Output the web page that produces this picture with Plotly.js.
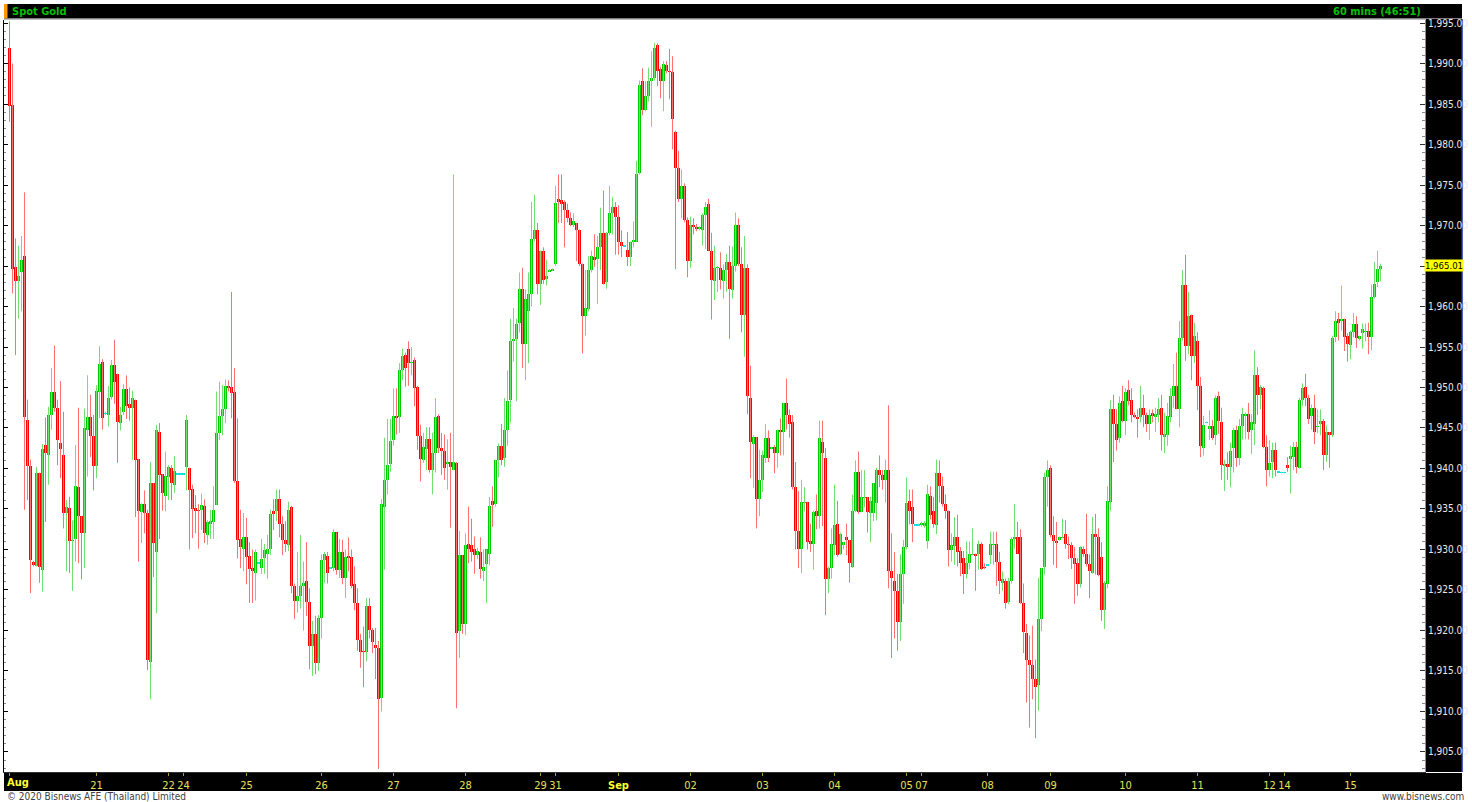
<!DOCTYPE html>
<html><head><meta charset="utf-8">
<script src="https://cdn.plot.ly/plotly-3.0.1.min.js"></script>
<style>html,body{margin:0;padding:0;background:#fff;overflow:hidden;} #chart{width:1472px;height:802px;}</style>
</head><body><div id="chart"></div>
<script>
// Hourly candles [open, high, low, close]
const aug20_24 = [
[1991.9,1995.2,1982.8,1984.8],[1984.9,1990.0,1961.6,1964.6],[1964.9,1968.4,1954.0,1963.1],[1963.1,1967.5,1958.5,1963.8],
[1964.2,1968.7,1959.4,1965.8],[1966.2,1974.1,1934.9,1946.4],[1946.0,1948.5,1936.1,1940.3],[1940.3,1941.1,1924.6,1928.7],
[1928.5,1928.6,1927.9,1928.1],[1928.0,1940.2,1927.9,1939.5],[1939.5,1939.5,1925.9,1927.9],[1927.5,1943.0,1924.8,1942.4],
[1942.9,1946.3,1933.4,1941.9],[1941.7,1947.6,1938.0,1946.6],[1946.6,1952.4,1944.8,1949.4],[1949.4,1955.2,1947.0,1947.5],
[1947.5,1948.5,1940.4,1943.5],[1943.2,1950.8,1938.8,1942.4],[1941.7,1947.0,1932.6,1934.5],[1934.5,1936.1,1927.3,1935.2],
[1935.1,1936.5,1927.1,1931.1],[1931.0,1933.6,1924.9,1931.2],[1931.3,1942.9,1928.5,1937.8],[1937.7,1947.5,1928.3,1934.1],
[1934.1,1934.1,1926.3,1932.0],[1932.0,1947.4,1927.7,1945.0],[1944.8,1951.5,1939.0,1946.4],[1946.4,1949.1,1941.4,1944.0],
[1944.0,1946.6,1937.3,1940.3],[1940.3,1950.3,1938.8,1949.6],[1949.5,1955.1,1946.2,1952.9],[1953.2,1953.5,1944.8,1946.2],
[1946.8,1947.0,1946.6,1946.8],[1946.6,1950.2,1945.2,1948.7],[1948.8,1953.4,1948.5,1952.8],[1952.8,1955.9,1948.0,1950.7],
[1951.7,1951.7,1940.7,1945.7],[1945.6,1947.6,1944.7,1946.6],[1947.0,1950.4,1946.6,1949.8],[1949.8,1951.5,1946.1,1947.7],
[1948.0,1950.0,1945.9,1947.5],[1947.5,1949.6,1941.1,1948.7],[1948.5,1948.5,1934.0,1941.0],[1941.2,1941.2,1928.5,1934.7],
[1934.6,1935.7,1930.8,1935.6],[1935.6,1937.3,1932.0,1934.5],[1934.5,1934.9,1915.1,1916.4],[1916.1,1940.8,1911.5,1938.2],
[1938.2,1938.2,1926.6,1930.8],[1929.7,1945.4,1922.1,1944.7],[1944.5,1945.6,1931.3,1939.2],[1939.3,1939.3,1934.8,1937.0],
[1936.6,1942.1,1934.7,1939.1],[1938.9,1940.4,1936.1,1940.2],[1940.0,1940.4,1936.1,1938.2],[1938.0,1941.5,1937.0,1939.7],
[1939.3,1939.4,1939.2,1939.3],[1939.3,1939.4,1939.2,1939.3],[1939.3,1939.4,1939.2,1939.3],
[1940.2,1946.6,1937.3,1946.0],[1940.0,1940.1,1930.0,1937.3],[1937.5,1938.0,1931.4,1935.0],[1935.1,1936.7,1932.0,1934.8],
[1934.9,1935.6,1930.1,1934.8],[1934.9,1936.9,1932.4,1935.5],[1935.4,1936.2,1930.8,1932.0],[1931.8,1933.6,1930.6,1933.4],
[1933.2,1934.9,1931.3,1933.5],[1933.4,1937.8,1931.3,1934.9],[1935.5,1949.5,1935.5,1944.4],[1944.4,1950.7,1943.5,1946.5],
[1946.5,1950.3,1944.1,1947.4],[1947.3,1951.0,1945.6,1950.2],[1950.2,1950.9,1949.5,1949.9],[1950.1,1961.8,1946.2,1949.3],
[1949.4,1952.4,1938.2,1938.4],[1938.4,1946.2,1928.9,1931.2],[1931.3,1934.9,1927.7,1930.3],[1930.1,1934.5,1927.3,1931.5],
[1931.5,1933.9,1925.7,1929.1]
];
const aug25_26 = [
[1929.2,1930.9,1923.4,1927.6],[1927.7,1930.0,1923.4,1927.3],[1927.1,1930.0,1923.7,1929.7],[1928.3,1928.4,1928.2,1928.3],
[1927.7,1931.3,1927.0,1928.8],[1928.9,1930.7,1927.0,1929.9],[1929.4,1931.8,1926.4,1930.0],[1930.1,1934.9,1929.3,1934.4],
[1934.7,1936.2,1932.4,1934.4],[1934.7,1937.4,1933.5,1936.2],[1936.2,1937.4,1931.5,1933.2],[1933.2,1934.1,1929.3,1931.2],
[1931.2,1933.5,1929.7,1930.7],[1930.6,1935.9,1929.8,1934.9],[1935.2,1935.4,1924.6,1925.5],[1925.5,1925.8,1921.4,1923.7],
[1923.7,1929.7,1922.2,1924.3],[1924.3,1931.8,1922.7,1925.5],[1925.5,1928.5,1920.0,1925.9],[1926.1,1930.9,1921.8,1923.5],
[1923.5,1925.2,1915.2,1918.1],[1918.1,1921.2,1914.4,1919.6],[1919.6,1921.8,1914.6,1916.0],[1916.0,1921.9,1915.0,1921.5],
[1921.5,1929.4,1919.0,1928.7],[1928.7,1929.7,1925.9,1929.4],[1929.2,1929.7,1925.8,1927.1],[1927.7,1927.8,1927.6,1927.7],
[1927.7,1932.5,1927.3,1932.1],[1932.1,1932.1,1926.9,1927.5],[1927.5,1931.3,1926.5,1929.7],[1929.7,1931.2,1925.7,1926.5],
[1926.5,1930.0,1924.0,1929.1],[1929.2,1931.5,1927.3,1929.1],[1929.1,1930.0,1925.2,1925.5],[1925.8,1927.9,1922.5,1923.4],
[1923.4,1925.2,1917.5,1918.8],[1918.8,1919.6,1915.4,1917.4],[1917.5,1920.5,1913.0,1917.4],[1917.4,1924.0,1916.2,1923.0],
[1923.0,1924.0,1919.0,1920.0],[1920.0,1920.3,1917.2,1918.6],[1918.2,1920.3,1914.0,1917.8],[1917.8,1918.7,1902.9,1911.5],
[1911.7,1936.2,1910.0,1935.6],[1935.2,1943.8,1927.5,1938.6],[1938.6,1946.1,1936.8,1940.4],[1940.5,1946.1,1939.6,1943.4],
[1943.5,1949.9,1942.8,1946.5],[1946.5,1949.9,1944.2,1946.2],[1946.3,1953.0,1944.4,1952.1],[1952.1,1954.8,1950.9,1953.9],
[1954.0,1954.3,1950.1,1952.4],[1954.8,1955.7,1950.2,1953.0],[1953.0,1955.0,1951.5,1953.2],[1953.4,1953.7,1947.7,1949.9],
[1950.1,1950.2,1942.3,1944.0],[1944.0,1945.4,1938.4,1941.2],[1941.0,1944.4,1940.7,1942.6],[1942.4,1945.1,1939.8,1943.6],
[1943.6,1945.1,1939.5,1939.8],[1939.8,1944.4,1936.8,1941.9],[1941.9,1948.7,1939.5,1946.3],[1946.5,1946.7,1941.9,1942.5],
[1942.5,1944.4,1939.2,1942.2],[1942.2,1944.2,1938.6,1940.1],[1940.5,1943.6,1937.4,1940.8],[1940.8,1944.4,1932.7,1940.2],
[1939.8,1976.3,1939.8,1940.8],[1940.7,1940.8,1910.4,1919.7],[1919.9,1932.3,1916.6,1929.3],[1929.3,1929.3,1919.6,1920.8],
[1920.8,1932.0,1919.4,1930.6],[1930.7,1935.3,1928.3,1930.1],[1930.6,1933.8,1928.5,1929.7],[1930.1,1931.6,1927.0,1929.3],
[1929.3,1930.2,1928.8,1929.8]
];
const aug28_sep02 = [
[1929.7,1931.5,1926.4,1927.6],[1927.3,1930.0,1926.1,1927.9],[1928.2,1930.0,1923.4,1930.0],[1929.4,1936.5,1928.1,1935.4],
[1936.0,1937.8,1932.8,1935.5],[1935.6,1941.1,1935.3,1941.0],[1941.0,1943.1,1938.9,1942.8],[1942.8,1945.5,1940.4,1941.1],
[1941.3,1948.7,1940.2,1944.8],[1944.8,1952.1,1942.8,1948.3],[1948.4,1958.5,1945.7,1955.8],[1955.9,1959.8,1953.2,1956.0],
[1956.0,1958.5,1948.3,1957.9],[1958.0,1964.2,1956.8,1962.2],[1962.1,1964.8,1952.4,1955.4],[1955.4,1962.1,1950.9,1960.9],
[1959.4,1964.2,1953.0,1961.5],[1961.5,1972.9,1960.0,1968.3],[1968.3,1973.8,1968.0,1969.5],[1969.5,1970.3,1961.5,1962.8],
[1962.8,1966.9,1960.2,1966.9],[1966.9,1967.3,1962.8,1963.3],[1963.4,1965.8,1962.6,1963.8],[1964.4,1964.6,1964.3,1964.5],
[1964.5,1964.7,1964.4,1964.6],[1965.3,1974.9,1965.0,1972.8],[1973.3,1976.3,1970.3,1972.9],[1973.1,1976.3,1970.3,1972.7],
[1972.9,1973.1,1967.3,1971.9],[1971.9,1972.7,1970.4,1970.9],[1970.9,1971.6,1969.9,1970.1],[1970.1,1971.5,1969.8,1970.5],
[1970.3,1970.3,1965.6,1969.5],[1969.5,1969.5,1965.0,1965.3],[1965.3,1965.3,1954.2,1958.8],[1958.8,1964.5,1956.4,1959.8],
[1959.7,1966.2,1959.4,1964.5],[1964.5,1966.9,1964.2,1966.2],[1966.1,1968.9,1964.9,1965.8],[1965.9,1968.7,1960.3,1967.4],
[1967.4,1972.2,1964.5,1969.1],[1969.1,1974.3,1962.7,1962.8],[1963.0,1969.2,1962.2,1969.1],[1969.1,1974.9,1968.8,1971.5],
[1971.5,1973.5,1968.9,1972.3],[1972.3,1972.9,1966.4,1971.1],[1971.1,1972.5,1966.4,1968.0],[1968.0,1969.4,1966.1,1967.5],
[1967.5,1967.6,1967.4,1967.5],[1967.0,1969.2,1965.0,1966.1],[1966.1,1968.0,1965.0,1968.0],[1968.0,1970.5,1967.3,1968.2],
[1968.0,1978.0,1968.0,1976.3],[1976.5,1987.9,1976.3,1987.3],[1987.8,1989.4,1983.6,1984.2],[1984.2,1987.8,1984.1,1986.0],
[1986.0,1989.5,1985.3,1987.8],[1987.8,1991.5,1982.2,1988.2],[1988.2,1992.5,1987.9,1991.9],[1992.3,1992.5,1987.2,1989.1],
[1989.3,1989.6,1985.7,1987.9],[1987.9,1990.3,1984.1,1990.0],[1989.8,1990.3,1988.8,1989.1],[1989.1,1991.8,1985.6,1989.0],
[1989.0,1990.9,1979.4,1983.2],[1981.6,1981.7,1964.6,1977.1],[1977.1,1979.2,1972.9,1973.3],[1973.3,1976.9,1970.9,1974.9],
[1974.9,1975.2,1970.4,1970.7],[1970.7,1971.0,1963.6,1965.6],[1965.6,1971.1,1964.8,1970.1],[1970.1,1970.9,1968.9,1969.8],
[1969.8,1970.2,1969.3,1969.6],[1969.6,1969.9,1969.4,1969.8],[1969.5,1971.5,1967.5,1971.3],[1971.3,1972.9,1967.1,1972.3],
[1972.7,1973.3,1966.9,1966.9],[1966.9,1969.1,1958.4,1963.3]
];
const sep03_08 = [
[1963.1,1967.5,1960.8,1964.7],[1964.7,1965.0,1961.8,1964.9],[1964.8,1966.7,1962.1,1963.3],[1963.1,1965.2,1961.0,1964.5],
[1964.5,1966.5,1961.8,1965.5],[1965.5,1967.5,1956.0,1962.1],[1962.0,1967.4,1961.0,1965.0],[1965.0,1971.6,1964.3,1970.1],
[1970.1,1970.9,1965.0,1965.3],[1965.2,1967.3,1956.8,1959.0],[1959.0,1968.7,1953.8,1964.7],[1964.7,1965.2,1946.7,1949.0],
[1948.7,1952.7,1938.8,1943.3],[1943.0,1944.1,1937.6,1943.9],[1943.9,1943.9,1932.6,1936.2],[1936.2,1942.3,1934.1,1938.6],
[1938.6,1942.2,1937.1,1941.7],[1941.3,1945.5,1940.7,1943.8],[1943.8,1944.7,1940.8,1941.3],[1942.5,1942.7,1942.4,1942.6],
[1942.6,1942.9,1939.4,1941.9],[1941.9,1944.8,1940.1,1944.7],[1944.7,1946.2,1941.6,1944.5],[1944.5,1948.1,1941.6,1948.1],
[1948.1,1951.1,1944.8,1946.6],[1946.6,1947.3,1943.8,1945.5],[1945.7,1946.6,1937.4,1937.7],[1937.7,1940.8,1930.0,1932.3],
[1932.3,1937.2,1927.7,1930.0],[1930.0,1938.6,1927.1,1935.9],[1935.8,1937.7,1934.7,1935.9],[1935.9,1935.9,1930.0,1930.9],
[1931.0,1933.2,1929.7,1930.7],[1930.7,1934.8,1927.5,1934.6],[1934.8,1936.8,1932.5,1934.1],[1934.1,1945.9,1932.6,1943.8],
[1943.3,1945.9,1932.9,1941.9],[1941.3,1942.5,1921.9,1926.3],[1926.3,1927.9,1924.6,1927.7],[1927.7,1932.6,1926.4,1930.7],
[1930.6,1938.0,1929.3,1933.0],[1933.2,1936.0,1929.1,1929.3],[1929.4,1932.1,1929.3,1931.9],[1930.6,1930.9,1930.0,1930.9],
[1931.5,1933.2,1929.3,1931.2],[1931.2,1931.2,1925.9,1928.3],[1927.9,1936.8,1927.7,1934.8],[1934.8,1941.0,1934.6,1939.6],
[1939.6,1942.1,1934.4,1934.6],[1934.6,1939.8,1934.6,1936.5],[1936.4,1939.8,1935.2,1936.5],[1936.5,1936.5,1932.1,1934.6],
[1934.5,1936.5,1930.9,1936.0],[1934.5,1938.2,1933.5,1938.2],[1935.8,1940.1,1933.6,1939.8],[1939.8,1941.6,1937.7,1939.2],
[1939.2,1939.8,1937.4,1938.6],[1938.6,1941.1,1935.8,1939.8],[1939.8,1947.8,1925.2,1927.3],[1927.3,1932.0,1916.6,1926.5],
[1926.1,1929.7,1919.0,1924.9],[1924.9,1927.0,1917.5,1921.1],[1921.1,1929.4,1918.7,1927.0],[1927.0,1931.2,1923.3,1930.3],
[1930.3,1938.9,1930.0,1935.8],[1936.0,1937.4,1933.1,1934.8],[1935.2,1937.4,1930.9,1933.1],[1933.0,1933.1,1932.9,1933.0],
[1933.0,1933.2,1932.9,1933.0],[1933.0,1933.4,1932.8,1933.3],[1932.9,1933.5,1932.7,1933.3],[1931.0,1938.0,1930.1,1936.8],
[1936.6,1937.8,1933.7,1934.3],[1934.7,1936.5,1932.7,1933.1],[1933.0,1941.1,1931.9,1939.5],[1939.5,1941.0,1935.8,1937.8],
[1937.8,1939.0,1935.3,1935.6],[1935.6,1936.8,1933.8,1934.7],[1934.8,1934.8,1927.9,1929.9]
];
const sep08_11 = [
[1929.9,1932.0,1928.5,1930.6],[1930.4,1934.0,1928.1,1931.5],[1931.5,1934.3,1927.9,1929.7],[1929.8,1930.3,1926.7,1928.3],
[1928.9,1929.8,1924.5,1927.0],[1927.0,1931.0,1926.4,1928.3],[1928.3,1931.0,1927.6,1929.5],[1929.4,1932.6,1929.3,1929.5],
[1929.4,1929.5,1924.9,1929.3],[1929.5,1931.1,1927.5,1930.7],[1930.7,1930.9,1927.5,1927.6],[1927.9,1928.3,1927.6,1927.7],
[1928.1,1928.2,1928.0,1928.1],[1929.3,1932.2,1928.2,1930.7],[1930.6,1932.2,1928.1,1930.7],[1930.7,1932.2,1925.5,1928.5],
[1928.5,1929.7,1924.5,1926.1],[1925.9,1927.3,1924.9,1926.4],[1926.1,1926.4,1922.7,1923.4],[1923.5,1926.5,1923.3,1926.1],
[1926.1,1931.5,1925.8,1931.3],[1931.3,1935.6,1930.1,1931.5],[1931.5,1933.4,1929.5,1929.5],[1931.5,1932.5,1923.3,1923.4],
[1923.4,1925.8,1917.2,1919.8],[1919.7,1920.8,1911.1,1916.4],[1916.4,1919.4,1908.0,1915.7],[1915.8,1920.6,1911.5,1914.0],
[1914.0,1916.4,1906.7,1913.0],[1913.3,1926.5,1910.1,1921.4],[1921.4,1927.7,1919.9,1927.7],[1927.9,1939.5,1926.9,1939.0],
[1939.0,1941.0,1935.3,1939.8],[1940.1,1940.4,1931.5,1931.8],[1931.8,1934.1,1928.1,1931.0],[1931.0,1933.4,1927.7,1930.9],
[1931.2,1931.6,1931.1,1931.5],[1931.5,1933.8,1931.4,1931.6],[1931.9,1933.6,1930.1,1930.7],[1930.7,1931.6,1928.8,1930.5],
[1930.5,1930.9,1927.6,1928.9],[1928.9,1930.3,1923.3,1928.2],[1928.3,1928.9,1924.3,1925.7],[1925.7,1930.4,1925.3,1930.3],
[1930.1,1930.4,1929.1,1929.4],[1929.4,1934.4,1927.9,1928.2],[1928.2,1929.4,1924.0,1927.3],[1927.1,1934.0,1927.0,1931.9],
[1931.9,1934.4,1926.9,1931.6],[1931.5,1932.6,1926.7,1926.9],[1929.1,1930.9,1921.2,1922.5],[1922.5,1926.1,1920.2,1925.9],
[1925.8,1937.8,1925.2,1936.0],[1935.9,1948.4,1934.8,1947.3],[1947.3,1949.1,1940.8,1945.5],[1945.5,1947.3,1942.2,1943.5],
[1943.8,1948.9,1943.2,1948.1],[1948.3,1950.2,1945.7,1945.9],[1945.9,1949.9,1944.1,1949.5],[1949.7,1950.9,1947.8,1948.3],
[1948.4,1949.9,1945.7,1946.6],[1946.6,1946.9,1946.2,1946.3],[1946.3,1947.3,1943.8,1946.2],[1946.3,1950.2,1945.7,1947.5],
[1947.5,1949.1,1945.1,1946.6],[1946.6,1946.9,1944.5,1945.5],[1945.5,1947.3,1943.5,1946.6],[1946.9,1947.3,1945.7,1946.5],
[1946.3,1947.5,1944.5,1946.7],[1946.6,1948.7,1945.7,1947.3],[1947.5,1949.1,1942.2,1944.1],[1943.9,1946.9,1941.9,1944.2],
[1944.1,1948.1,1942.8,1946.5],[1946.3,1949.9,1945.7,1949.0],[1949.0,1952.9,1947.5,1950.2],[1950.2,1954.3,1947.3,1947.3],
[1947.3,1958.2,1945.1,1956.1],[1956.1,1964.5,1955.8,1962.6]
];
const sep11_15 = [
[1962.7,1966.4,1953.3,1955.1],[1955.1,1961.8,1954.1,1958.8],[1959.0,1959.0,1950.9,1953.9],[1953.9,1958.0,1953.0,1956.4],
[1955.7,1956.8,1947.2,1950.2],[1950.2,1951.3,1941.4,1942.8],[1942.5,1946.5,1941.6,1945.4],[1945.7,1945.8,1945.6,1945.7],
[1944.9,1947.2,1943.5,1945.3],[1945.3,1946.0,1943.5,1943.8],[1944.1,1949.0,1942.9,1948.7],[1949.0,1949.5,1944.3,1945.9],
[1945.7,1947.5,1938.6,1940.4],[1940.4,1941.1,1937.2,1940.6],[1940.6,1942.0,1938.6,1940.2],[1940.2,1943.2,1937.7,1942.2],
[1942.5,1945.0,1939.5,1944.7],[1944.7,1945.3,1940.2,1941.3],[1941.3,1946.1,1940.4,1945.3],[1945.3,1947.5,1943.6,1946.7],
[1946.6,1946.9,1943.6,1946.7],[1946.7,1948.1,1943.6,1944.5],[1944.8,1946.7,1941.8,1945.7],[1945.5,1954.6,1942.9,1951.5],
[1951.5,1952.5,1946.6,1949.1],[1949.1,1950.3,1947.3,1950.1],[1949.9,1950.1,1942.5,1942.6],[1942.7,1944.1,1937.8,1939.8],
[1939.8,1943.5,1939.0,1940.7],[1940.8,1943.2,1938.8,1942.3],[1942.3,1943.2,1939.0,1939.8],[1939.6,1939.7,1939.5,1939.6],
[1939.5,1939.6,1939.4,1939.5],[1939.5,1939.6,1939.4,1939.5],[1940.4,1941.4,1939.6,1940.0],[1941.2,1942.8,1936.9,1941.6],
[1941.4,1943.3,1939.8,1942.7],[1942.7,1943.3,1939.4,1940.2],[1940.1,1948.7,1940.0,1948.5],[1948.5,1950.5,1947.7,1949.9],
[1950.1,1951.7,1947.7,1948.7],[1948.7,1949.1,1945.5,1946.1],[1946.5,1947.9,1944.8,1947.5],[1947.5,1949.1,1943.0,1944.5],
[1945.1,1947.3,1944.4,1945.3],[1945.5,1947.3,1944.1,1945.9],[1945.9,1946.1,1939.8,1941.7],[1941.7,1945.3,1940.8,1944.5],
[1944.5,1944.5,1940.1,1944.1],[1944.1,1956.4,1943.9,1956.1],[1956.2,1959.4,1955.6,1958.2],[1958.5,1959.2,1955.8,1958.0],
[1958.2,1962.6,1957.0,1958.5],[1958.5,1958.5,1954.5,1956.2],[1956.4,1956.7,1953.2,1955.4],[1955.2,1957.0,1953.5,1956.8],
[1956.8,1959.2,1956.2,1957.8],[1957.9,1958.8,1954.9,1956.1],[1956.0,1956.4,1955.8,1956.4],[1956.7,1957.9,1954.8,1957.2],
[1956.9,1957.9,1955.7,1957.0],[1957.0,1958.0,1954.1,1956.2],[1956.2,1962.7,1954.6,1961.2],[1961.2,1965.5,1961.0,1962.8],
[1963.0,1966.9,1962.4,1964.6],[1964.6,1965.3,1963.1,1965.01]
];
const dayLabels = ['Aug','21','22','24','25','26','27','28','29','31','Sep','02','03','04','05','07','08','09','10','11','12','14','15'];
const dayStartIdx = [0,29,53,58,79,104,128,152,177,182,203,227,251,275,299,304,326,347,372,396,420,425,447];
const priceTicks = [1905,1910,1915,1920,1925,1930,1935,1940,1945,1950,1955,1960,1965,1970,1975,1980,1985,1990,1995];
const chartTitle = 'Spot Gold';
const periodText = '60 mins (46:51)';
const lastPrice = 1965.01;

const candles = [].concat(aug20_24, aug25_26, aug28_sep02, sep03_08, sep08_11, sep11_15);
const NARROW = '"Liberation Sans Narrow", "Arial Narrow", "DejaVu Sans Condensed", "Liberation Sans", Arial, sans-serif';
const kind = candles.map(c => c[3] > c[0] ? 'up' : (c[3] < c[0] ? 'down' : 'doji'));

function wickTrace(k, color) {
  const xs = [], ys = [];
  candles.forEach((c, i) => {
    if (kind[i] !== k) return;
    xs.push(i, i, null);
    ys.push(Math.min(c[2], c[0], c[3]), Math.max(c[1], c[0], c[3]), null);
  });
  return {type:'scatter', mode:'lines', x:xs, y:ys, line:{color:color, width:1}, hoverinfo:'skip', showlegend:false, connectgaps:false};
}
const idx = candles.map((c, i) => i);
const bodyBase = candles.map(c => Math.min(c[0], c[3]) - (Math.abs(c[3]-c[0]) < 0.2 ? 0.1 : 0));
const bodyLen = candles.map(c => Math.max(Math.abs(c[3] - c[0]), 0.2));
const bodyColor = kind.map(k => k === 'up' ? '#00cc00' : (k === 'down' ? '#ff0000' : '#00e0e0'));

const traces = [
  wickTrace('up', '#70e070'),
  wickTrace('down', '#ff7070'),
  wickTrace('doji', '#33e6e6'),
  {type:'bar', x:idx, y:bodyLen, base:bodyBase, width:0.72, marker:{color:bodyColor, line:{width:0}}, hoverinfo:'skip', showlegend:false},
  {type:'scatter', mode:'markers', x:[0], y:[1950], yaxis:'y2', marker:{opacity:0}, hoverinfo:'skip', showlegend:false}
];

const yRange = [1902.53, 1995.37];
const px = v => (v - 4) / 1421;            // paper x from pixel
const py = v => (772 - v) / 752;           // paper y from pixel
const fmt = v => v.toLocaleString('en-US', {minimumFractionDigits:2, maximumFractionDigits:2});

const tickText = dayLabels.map((d, k) => k === 0 ? '' : ((d === 'Sep') ? '<span style="color:#ffff33"><b>' + d + '</b></span>' : d));
const priceText = priceTicks.map(v => Math.abs(v - lastPrice) < 2 ? '' : fmt(v));

const layout = {
  width:1472, height:802,
  margin:{l:4, r:47, t:20, b:30, pad:0},
  paper_bgcolor:'#ffffff', plot_bgcolor:'#ffffff',
  showlegend:false, hovermode:false, bargap:0,
  xaxis:{range:[-1.833, 471.833], tickmode:'array', tickvals:dayStartIdx, ticktext:tickText,
    ticks:'outside', ticklen:3, tickcolor:'#a09a40', showline:true, linecolor:'#303030', linewidth:1,
    showgrid:false, zeroline:false, fixedrange:true,
    tickfont:{family:NARROW, size:11, color:'#e6e05a'}},
  yaxis:{range:yRange, side:'right', tickmode:'array', tickvals:priceTicks, ticktext:priceText,
    ticks:'inside', ticklen:5, tickcolor:'#303030',
    minor:{dtick:1, tick0:1905, ticks:'inside', ticklen:3, tickcolor:'#888888'},
    showline:true, linecolor:'#a09838', linewidth:1, showgrid:false, zeroline:false, fixedrange:true,
    tickfont:{family:NARROW, size:10, color:'#e8e8e8'}},
  yaxis2:{range:yRange, overlaying:'y', side:'left', tickmode:'linear', tick0:1905, dtick:5,
    ticks:'inside', ticklen:4, tickcolor:'#000000',
    minor:{dtick:1, ticks:'inside', ticklen:2, tickcolor:'#888888'},
    showticklabels:false, showline:true, linecolor:'#000000', linewidth:1, showgrid:false, zeroline:false, fixedrange:true},
  shapes:[
    {type:'rect', xref:'paper', yref:'paper', x0:px(4), x1:px(1462), y0:py(18.5), y1:py(4), fillcolor:'#000000', line:{width:0}, layer:'below'},
    {type:'rect', xref:'paper', yref:'paper', x0:px(4), x1:px(7.5), y0:py(18.5), y1:py(4), fillcolor:'#ff9900', line:{width:0}, layer:'below'},
    {type:'line', xref:'paper', yref:'paper', x0:px(4), x1:px(1462), y0:py(19), y1:py(19), line:{color:'#808080', width:1}, layer:'below'},
    {type:'rect', xref:'paper', yref:'paper', x0:px(1426), x1:px(1462), y0:py(772), y1:py(19), fillcolor:'#000000', line:{width:0}, layer:'below'},
    {type:'line', xref:'paper', yref:'paper', x0:px(1462), x1:px(1462), y0:py(772), y1:py(19), line:{color:'#1a2aa8', width:1.5}, layer:'below'},
    {type:'rect', xref:'paper', yref:'paper', x0:px(4), x1:px(1462), y0:py(791), y1:py(773), fillcolor:'#000000', line:{width:0}, layer:'below'}
  ],
  annotations:[
    {xref:'paper', yref:'paper', x:px(10), y:py(11.5), xanchor:'left', yanchor:'middle', text:'<b>' + chartTitle + '</b>', showarrow:false,
      font:{family:NARROW, size:11, color:'#00c000'}},
    {xref:'paper', yref:'paper', x:px(1423), y:py(11.5), xanchor:'right', yanchor:'middle', text:'<b>' + periodText + '</b>', showarrow:false,
      font:{family:NARROW, size:11, color:'#00c000'}},
    {xref:'paper', yref:'paper', x:px(5), y:py(782.5), xanchor:'left', yanchor:'middle', text:'<b>' + dayLabels[0] + '</b>', showarrow:false,
      font:{family:NARROW, size:11, color:'#ffff33'}},
    {xref:'paper', yref:'y', x:px(1444), y:lastPrice, xanchor:'center', yanchor:'middle', text:fmt(lastPrice),
      showarrow:false, bgcolor:'#ffff00', borderpad:0, width:38, font:{family:NARROW, size:9.5, color:'#000000'}},
    {xref:'paper', yref:'paper', x:px(5), y:py(796.5), xanchor:'left', yanchor:'middle', text:'© 2020 Bisnews AFE (Thailand) Limited', showarrow:false,
      font:{family:NARROW, size:10, color:'#404040'}},
    {xref:'paper', yref:'paper', x:px(1466), y:py(796.5), xanchor:'right', yanchor:'middle', text:'www.bisnews.com', showarrow:false,
      font:{family:NARROW, size:10, color:'#404040'}}
  ]
};

Plotly.newPlot('chart', traces, layout, {staticPlot:true, displayModeBar:false});
</script></body></html>
